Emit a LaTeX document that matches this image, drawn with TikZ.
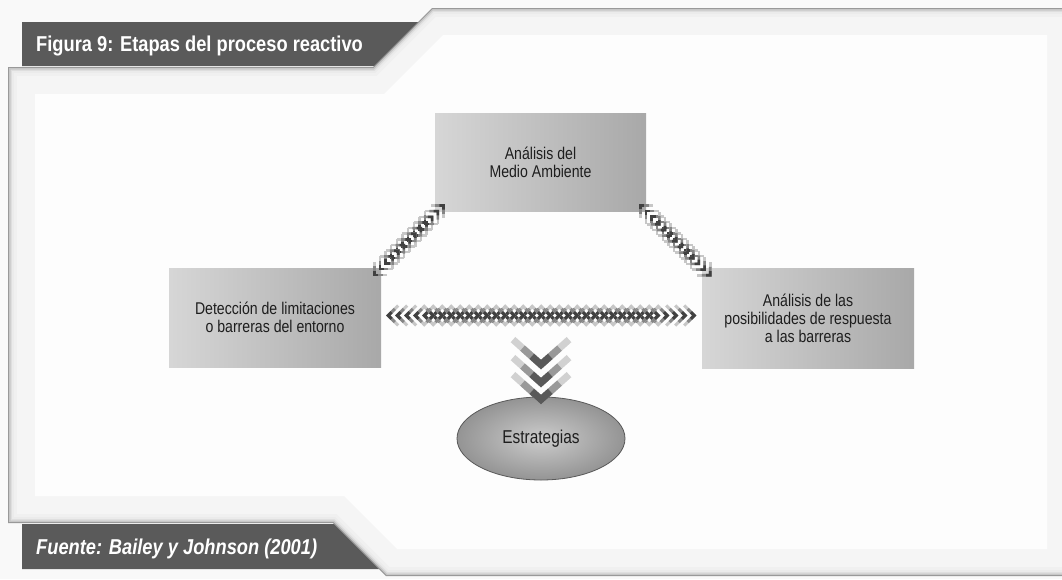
\documentclass[tikz,border=0pt]{standalone}
\usepackage{fontspec}
\setmainfont{Liberation Sans}
\newfontfamily\barfont{Liberation Sans}[FakeStretch=0.85]
\newfontfamily\boxfont{Liberation Sans}[FakeStretch=0.83]
\usetikzlibrary{calc,shapes.geometric}

\definecolor{pagebg}{RGB}{249,249,249}
\definecolor{innerbg}{RGB}{253,253,253}
\definecolor{barclr}{RGB}{90,90,90}
\definecolor{txtclr}{RGB}{30,30,30}

% outline of the framed panel, inset by #1 (right side inset by #2)
\newcommand\panelpath[2]{({8+#1},{67+#1}) -- ({373+0.414*#1},{67+#1}) -- ({432+0.414*#1},{8+#1})
  -- ({1062-#2},{8+#1}) -- ({1062-#2},{576-#1}) -- ({386+0.414*#1},{576-#1})
  -- ({333+0.414*#1},{523-#1}) -- ({8+#1},{523-#1}) -- cycle}

% double-headed chain of chevrons:
% #1 start, #2 angle, #3 length, #4 half height, #5 spacing, #6 single-headed tail, #7 line width
\newcommand\chevchain[7]{%
  \begin{scope}[shift={#1},rotate=#2,line width=#7]
    \pgfmathtruncatemacro\chevnA{(#3-#6)/#5}
    \foreach \i in {0,...,\chevnA}{
      \pgfmathsetmacro\cx{\i*#5}
      \foreach \f/\c in {1/22,0.66/48,0.33/75}{
        \draw[chevline,black!\c] ({\cx+\f*#4},{\f*#4}) -- (\cx,0) -- ({\cx+\f*#4},{-\f*#4});
      }
    }
    \foreach \i in {0,...,\chevnA}{
      \pgfmathsetmacro\cx{#3-\i*#5}
      \foreach \f/\c in {1/22,0.66/48,0.33/75}{
        \draw[chevline,black!\c] ({\cx-\f*#4},{\f*#4}) -- (\cx,0) -- ({\cx-\f*#4},{-\f*#4});
      }
    }
  \end{scope}}

% one downward chevron with its tip at #1
\newcommand\downchev[1]{%
  \begin{scope}[shift={#1},line width=7pt]
    \foreach \f/\c in {1/18,0.66/40,0.33/65}{
      \draw[chevline,black!\c] ({-28*\f},{-25*\f}) -- (0,0) -- ({28*\f},{-25*\f});
    }
  \end{scope}}

\tikzset{
  chevline/.style={line join=miter,line cap=butt},
  procbox/.style={rectangle,inner sep=0pt,align=center,text=txtclr,
    left color=black!16,right color=black!34,
    font=\boxfont\fontsize{17}{18}\selectfont},
  bartext/.style={anchor=base west,text=white,inner sep=0pt,
    font=\barfont\bfseries\fontsize{21.5}{24}\selectfont},
}

\begin{document}
\begin{tikzpicture}[x=1pt,y=-1pt]
  \useasboundingbox (0,0) rectangle (1062,579);
  \fill[pagebg] (0,0) rectangle (1062,579);

  % bevelled panel
  \foreach \d/\c in {0/40,1.2/22,2.5/13,4/8,6/6,9/4}{
    \fill[black!\c] \panelpath{\d}{0};
  }
  \fill[innerbg] \panelpath{27}{15};

  % title and source bars
  \fill[barclr] (22,22) -- (418,22) -- (374,66) -- (22,66) -- cycle;
  \node[bartext] (title) at (36,51.5) {Figura 9: Etapas del proceso reactivo};
  \fill[barclr] (22,524) -- (334,524) -- (379,569) -- (22,569) -- cycle;
  \node[bartext,font=\barfont\bfseries\itshape\fontsize{21.5}{24}\selectfont] (source) at (36,554) {Fuente: Bailey y Johnson (2001)};

  % stages
  \node[procbox,minimum width=211pt,minimum height=98pt] (top) at (540.5,162)
    {Análisis del\\Medio Ambiente};
  \node[procbox,minimum width=212pt,minimum height=99pt] (left) at (275,317.5)
    {Detección de limitaciones\\o barreras del entorno};
  \node[procbox,minimum width=212pt,minimum height=100pt] (right) at (808,318)
    {Análisis de las\\posibilidades de respuesta\\a las barreras};
  \node[ellipse,draw=black!65,line width=0.8pt,inner color=black!20,outer color=black!42,
    minimum width=168pt,minimum height=83pt,text=txtclr,
    font=\boxfont\fontsize{18.6}{20}\selectfont] (strat) at (541,438.5) {Estrategias};

  % chevron connectors
  \chevchain{($(left.north east)+(-7,7)$)}{45}{98}{9}{8}{24}{2.6pt}
  \chevchain{($(top.south east)+(-6,-6)$)}{-45}{99}{9}{8}{24}{2.6pt}
  \chevchain{($(left.east)+(7,-2)$)}{0}{306}{10}{9}{45}{3pt}
  \downchev{($(strat.north)+(0,-32)$)}
  \downchev{($(strat.north)+(0,-14)$)}
  \downchev{($(strat.north)+(0,3)$)}
\end{tikzpicture}
\end{document}
